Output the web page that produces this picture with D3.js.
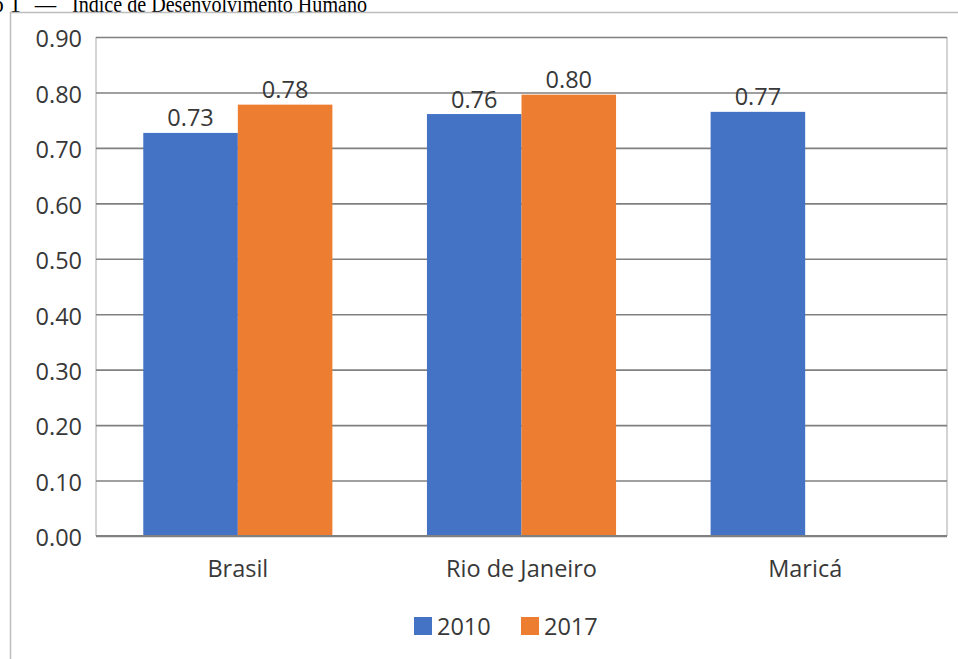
<!DOCTYPE html>
<html>
<head>
<meta charset="utf-8">
<script src="https://cdn.jsdelivr.net/npm/d3@7/dist/d3.min.js"></script>
<style>
  html, body { margin: 0; padding: 0; background: #fff; overflow: hidden; }
  svg { display: block; }
</style>
</head>
<body>
<svg id="chart" width="958" height="659"></svg>
<script>
// Índice de Desenvolvimento Humano (IDH) by place and year
const categories = ["Brasil", "Rio de Janeiro", "Maricá"];
const seriesNames = ["2010", "2017"];
const values2010 = [0.727, 0.761, 0.765];
const values2017 = [0.778, 0.796, null];
const yTicks = [0, 0.1, 0.2, 0.3, 0.4, 0.5, 0.6, 0.7, 0.8, 0.9];
const colors = ["#4472C4", "#ED7D31"];

const seriesValues = [values2010, values2017];
const rows = categories.map((c, i) => ({
  category: c,
  bars: seriesNames.map((s, j) => ({ series: s, value: seriesValues[j][i], color: colors[j] }))
}));

const svg = d3.select("#chart");
const W = 958, H = 659;
const plot = { left: 96, right: 947, top: 37, bottom: 536 };
const font = "'Open Sans', 'Noto Sans', sans-serif";
const textColor = "#383838";

// Caption, running past the top edge of the page
const capFont = "'Liberation Serif', 'Times New Roman', serif";
const capY = 11.5;
svg.append("text").attr("x", 21).attr("y", capY).attr("text-anchor", "end")
  .attr("font-family", capFont).attr("font-size", 23).attr("fill", "#000")
  .text("Gráfico 1");
svg.append("text").attr("x", 35).attr("y", capY)
  .attr("font-family", capFont).attr("font-size", 23).attr("fill", "#000")
  .attr("textLength", 21).attr("lengthAdjust", "spacingAndGlyphs")
  .text("–");
svg.append("text").attr("x", 72).attr("y", capY)
  .attr("font-family", capFont).attr("font-size", 23).attr("fill", "#000")
  .attr("textLength", 295).attr("lengthAdjust", "spacingAndGlyphs")
  .text("Índice de Desenvolvimento Humano");

// Outer chart frame (top and left edges)
svg.append("path")
  .attr("d", `M10.5,${H} V12.5 H${W}`)
  .attr("fill", "none")
  .attr("stroke", "#bdbdbd")
  .attr("stroke-width", 1.5);

const y = d3.scaleLinear().domain([0, 0.9]).range([plot.bottom, plot.top]);
const x0 = d3.scaleBand().domain(categories).range([plot.left, plot.right])
  .paddingInner(1 / 3).paddingOuter(1 / 6);
const x1 = d3.scaleBand().domain(seriesNames).range([0, x0.bandwidth()]).padding(0);

// Plot-area side borders
svg.append("g").selectAll("line").data([plot.left, plot.right]).join("line")
  .attr("x1", d => d).attr("x2", d => d)
  .attr("y1", plot.top).attr("y2", plot.bottom)
  .attr("stroke", "#d4d4d4").attr("stroke-width", 2);

// Horizontal gridlines and value axis labels
const yAxis = d3.axisLeft(y).tickValues(yTicks).tickFormat(d3.format(".2f"))
  .tickSize(-(plot.right - plot.left)).tickPadding(14);
const gy = svg.append("g").attr("transform", `translate(${plot.left},0)`).call(yAxis);
gy.select(".domain").remove();
gy.selectAll(".tick line").attr("stroke", "#808080").attr("stroke-width", 1.6);
gy.selectAll(".tick text")
  .attr("font-family", font).attr("font-size", 23.5).attr("fill", textColor)
  .attr("dy", "0.42em");

// Bars
const groups = svg.append("g").selectAll("g").data(rows).join("g")
  .attr("transform", d => `translate(${x0(d.category)},0)`);
groups.selectAll("rect").data(d => d.bars.filter(b => b.value != null)).join("rect")
  .attr("x", d => x1(d.series))
  .attr("width", x1.bandwidth())
  .attr("y", d => y(d.value))
  .attr("height", d => y(0) - y(d.value))
  .attr("fill", d => d.color);

// Value labels above bars
groups.selectAll("text").data(d => d.bars.filter(b => b.value != null)).join("text")
  .attr("x", d => x1(d.series) + x1.bandwidth() / 2)
  .attr("y", d => y(d.value) - 6.5)
  .attr("text-anchor", "middle")
  .attr("font-family", font).attr("font-size", 23.5).attr("fill", textColor)
  .text(d => d3.format(".2f")(d.value));

// Category axis
const xAxis = d3.axisBottom(x0).tickSize(0).tickPadding(0);
const gx = svg.append("g").attr("transform", `translate(0,${plot.bottom})`).call(xAxis);
gx.select(".domain").attr("stroke", "#808080").attr("stroke-width", 2)
  .attr("d", `M${plot.left},0H${plot.right}`);
gx.selectAll(".tick text")
  .attr("font-family", font).attr("font-size", 23.5).attr("fill", textColor)
  .attr("y", 41).attr("dy", 0);

// Legend
const legendItems = [
  { name: seriesNames[0], color: colors[0], x: 414 },
  { name: seriesNames[1], color: colors[1], x: 521 }
];
const lg = svg.append("g").selectAll("g").data(legendItems).join("g")
  .attr("transform", d => `translate(${d.x},617)`);
lg.append("rect").attr("width", 18).attr("height", 18).attr("fill", d => d.color);
lg.append("text").attr("x", 23).attr("y", 18)
  .attr("font-family", font).attr("font-size", 23.5).attr("fill", textColor)
  .text(d => d.name);
</script>
</body>
</html>
